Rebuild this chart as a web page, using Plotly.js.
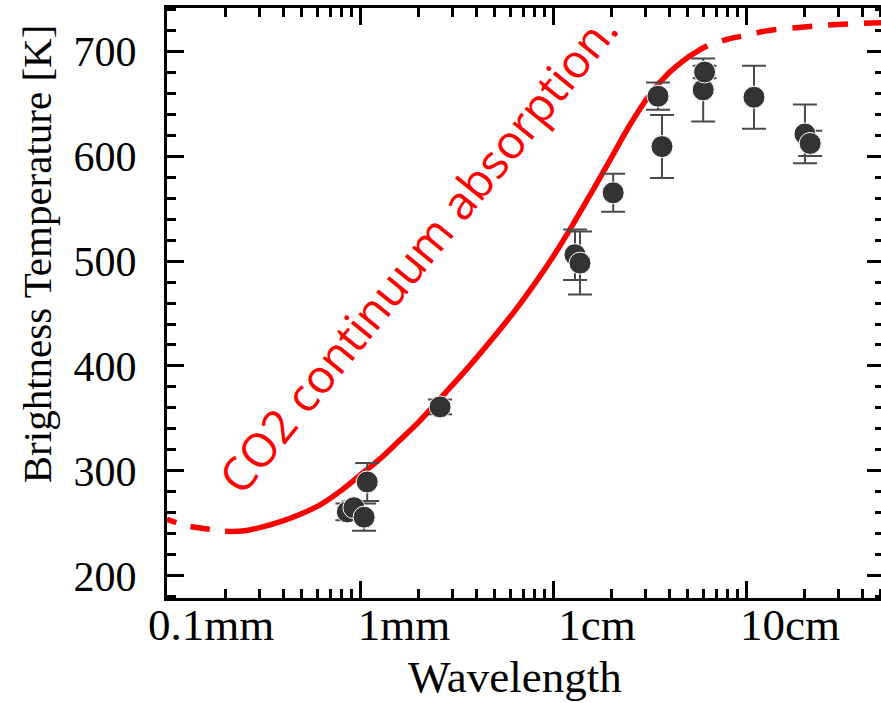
<!DOCTYPE html>
<html><head><meta charset="utf-8">
<script src="https://cdn.plot.ly/plotly-3.0.1.min.js"></script>
<style>html,body{margin:0;padding:0;overflow:hidden;background:#fff;width:881px;height:703px}#chart{width:892px;height:703px}</style>
</head><body><div id="chart"></div>
<script>
// Model curve (wavelength in mm, brightness temperature in K)
const curveWavelengthMm = [0.1,0.126,0.158,0.2,0.251,0.316,0.398,0.501,0.631,0.794,1.0,1.26,1.58,2.0,2.51,3.16,3.98,5.01,6.31,7.94,10.0,12.6,15.8,20.0,25.1,31.6,39.8,50.1,56.2,63.1,79.4,100,126,200,316,520];
const curveTempK = [254,248,245,242.5,243,247,252.5,259.5,268.5,281,296,311,328,346,366,386,407,429,452,477,504,534,565,598,630,658,679,694,700,705,711,715,719,723,725.5,727];
// Wavelength span drawn as a solid line (dashed outside)
const solidSpanMm = [0.2, 63.1];

// Observations
const obsWavelengthMm = [0.86, 0.93, 1.05, 1.09, 2.6, 13.0, 13.8, 20.5, 35.0, 36.7, 60.0, 61.0, 110, 202, 215];
const obsTempK = [261, 265, 256, 289.5, 361, 506, 498, 565, 657, 609, 663, 680, 656, 621, 612];
const obsErrK = [8, 6, 13, 18, 7, 24, 30, 18, 13, 30, 30, 6, 30, 28, 12];

// Axis ticks
const xTickValsMm = [0.1, 1, 10, 100];
const xTickText = ['0.1mm', '1mm', '1cm', '10cm'];
const yTickVals = [200, 300, 400, 500, 600, 700];

const annotationText = 'CO2 continuum absorption.';
const xTitle = 'Wavelength';
const yTitle = 'Brightness Temperature [K]';

function pick(cond) {
  const xs = [], ys = [];
  curveWavelengthMm.forEach((w, i) => { if (cond(w)) { xs.push(w); ys.push(curveTempK[i]); } });
  return {xs, ys};
}
const solid = pick(w => w >= solidSpanMm[0] && w <= solidSpanMm[1]);
const leftD = pick(w => w <= solidSpanMm[0]);
const rightD = pick(w => w >= solidSpanMm[1]);

const red = '#ff0000';
const curveLine = {color: red, width: 5.5, shape: 'spline', smoothing: 1};

const traces = [
  {x: leftD.xs.slice().reverse(), y: leftD.ys.slice().reverse(), mode: 'lines',
   line: Object.assign({}, curveLine, {dash: '0px,15px,20px,0px'}), hoverinfo: 'skip'},
  {x: rightD.xs.slice().reverse(), y: rightD.ys.slice().reverse(), mode: 'lines',
   line: Object.assign({}, curveLine, {dash: '20px,16px'}), hoverinfo: 'skip'},
  {x: solid.xs, y: solid.ys, mode: 'lines', line: curveLine, hoverinfo: 'skip'},
  {x: obsWavelengthMm, y: obsTempK, mode: 'markers',
   marker: {size: 22, color: '#333333', line: {color: '#ffffff', width: 1}},
   error_y: {type: 'data', array: obsErrK, visible: true, color: '#4a4a4a', thickness: 2, width: 12}}
];

const axisCommon = {
  showline: true, linewidth: 3, linecolor: '#000', mirror: 'allticks',
  ticks: 'inside', ticklen: 17, tickwidth: 3, tickcolor: '#000',
  showgrid: false, zeroline: false
};

const layout = {
  width: 892, height: 703,
  margin: {l: 167, r: 8, t: 8, b: 105},
  paper_bgcolor: '#fff', plot_bgcolor: '#fff',
  showlegend: false,
  font: {family: 'Liberation Serif', color: '#000'},
  xaxis: Object.assign({}, axisCommon, {
    type: 'log', range: [-1, 2.715],
    tickmode: 'array', tickvals: xTickValsMm, ticktext: xTickText,
    tickfont: {family: 'Liberation Serif', size: 45, color: '#000'},
    ticklabelshift: 44, ticklabelstandoff: -15,
    minor: {ticks: 'inside', ticklen: 9, tickwidth: 3, tickcolor: '#000', dtick: 'D1', showgrid: false}
  }),
  yaxis: Object.assign({}, axisCommon, {
    range: [179, 741],
    tickmode: 'array', tickvals: yTickVals,
    tickfont: {family: 'Liberation Serif', size: 42, color: '#000'},
    ticklabelstandoff: 19,
    minor: {ticks: 'inside', ticklen: 9, tickwidth: 3, tickcolor: '#000', dtick: 20, tick0: 0, showgrid: false}
  }),
  annotations: [
    {text: annotationText, xref: 'paper', yref: 'paper', x: 0.35, y: 0.586,
     xanchor: 'center', yanchor: 'middle', textangle: -51, showarrow: false,
     font: {family: 'Open Sans', size: 46.5, color: red}},
    {text: yTitle, xref: 'paper', yref: 'paper', x: -0.181, y: 0.583,
     xanchor: 'center', yanchor: 'middle', textangle: -90, showarrow: false,
     font: {family: 'Liberation Serif', size: 41, color: '#000'}},
    {text: xTitle, xref: 'paper', yref: 'paper', x: 0.485, y: -0.134,
     xanchor: 'center', yanchor: 'middle', showarrow: false,
     font: {family: 'Liberation Serif', size: 45, color: '#000'}}
  ]
};

Plotly.newPlot('chart', traces, layout, {staticPlot: true, displayModeBar: false});
</script>
</body></html>
